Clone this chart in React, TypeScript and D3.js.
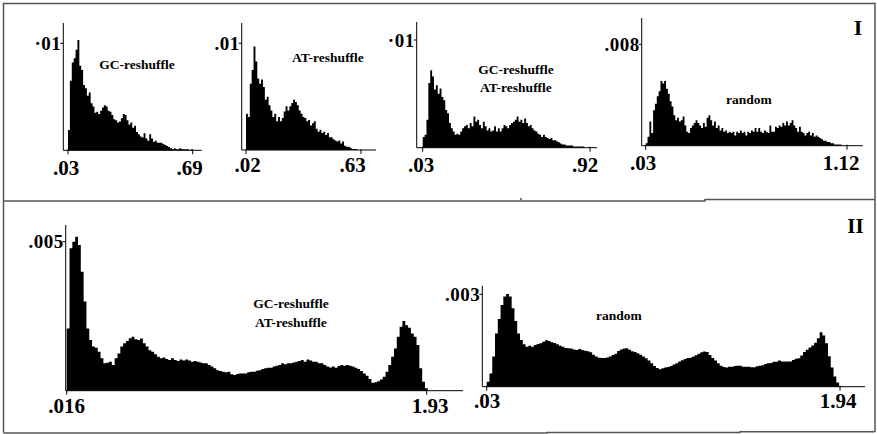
import React from "react";
import * as d3 from "d3";

// histogram heights, in units of 1e-4 (100 = .01)
const gcReshuffle = [
  19, 65, 82, 86, 94, 103, 79, 75, 61, 58, 51, 54, 44, 41, 35, 36, 34, 37, 40, 42,
  41, 37, 36, 33, 29, 28, 26, 27, 30, 34, 33, 28, 24, 26, 21, 23, 17, 15, 13, 12,
  16, 11, 9, 15, 11, 8, 9, 7, 7, 7, 6, 5, 4, 3, 2, 1, 2, 1, 1, 2, 1, 1, 1, 1, 0, 1,
];
const atReshuffle = [
  34, 31, 62, 75, 97, 83, 67, 62, 66, 59, 47, 50, 42, 37, 31, 34, 27, 31, 27, 30,
  36, 41, 37, 41, 44, 47, 45, 42, 37, 34, 31, 30, 27, 28, 23, 25, 27, 20, 17, 19,
  16, 17, 14, 16, 12, 12, 10, 9, 8, 9, 6, 8, 4, 3, 3, 2, 1, 1, 1, 0, 0,
];
const gcAtReshuffle = [
  10, 12, 26, 60, 72, 66, 54, 58, 50, 55, 47, 44, 35, 32, 23, 18, 15, 12, 13, 12,
  15, 18, 20, 21, 18, 23, 20, 29, 24, 26, 21, 18, 24, 20, 16, 18, 15, 16, 20, 15,
  18, 15, 18, 21, 20, 18, 21, 23, 24, 26, 29, 24, 26, 23, 27, 23, 20, 21, 18, 16,
  15, 13, 12, 10, 12, 10, 9, 8, 9, 7, 7, 6, 5, 4, 3, 3, 2, 2, 2, 2,
  1, 1, 1, 1, 1, 1, 0, 0, 0,
];
const randomI = [
  2, 7, 19, 10, 28, 33, 39, 43, 51, 49, 51, 45, 41, 35, 31, 24, 20, 22, 19, 20,
  23, 16, 11, 10, 14, 16, 18, 20, 18, 16, 14, 18, 15, 22, 24, 20, 16, 19, 14, 16,
  12, 14, 11, 12, 10, 11, 10, 11, 8, 11, 10, 12, 10, 11, 8, 11, 10, 12, 11, 14,
  11, 14, 11, 10, 12, 11, 10, 16, 11, 11, 15, 14, 16, 15, 18, 16, 19, 16, 18, 20,
  16, 14, 11, 15, 11, 10, 8, 10, 11, 8, 10, 7, 8, 7, 6, 5, 4, 4, 3, 3,
  2, 2, 1, 1, 1, 1, 0, 0, 0,
];
const gcAtReshuffleII = [
  20.9, 47.8, 50.0, 51.7, 48.9, 39.9, 29.9, 20.9, 17.0, 14.8, 14.4, 13.1, 10.9, 9.2, 9.4, 9.7,
  8.6, 10.9, 12.5, 14.8, 15.9, 16.7, 17.6, 18.1, 17.3, 17.0, 17.5, 15.9, 14.8, 13.6, 13.1, 12.2,
  11.4, 10.9, 11.1, 10.6, 10.3, 10.9, 10.3, 10.0, 10.5, 10.1, 10.5, 10.1, 9.7, 10.0, 9.7, 9.5,
  9.2, 9.2, 8.6, 8.1, 7.5, 6.9, 6.6, 6.4, 6.2, 6.4, 5.5, 5.3, 5.6, 5.8, 5.8, 5.8,
  6.2, 6.4, 6.4, 6.7, 6.9, 7.3, 7.5, 7.7, 7.7, 8.1, 8.4, 8.6, 9.2, 8.9, 9.2, 9.2,
  9.5, 9.7, 10.0, 10.3, 9.7, 10.5, 10.1, 9.7, 9.7, 9.2, 9.2, 8.6, 8.1, 7.8, 8.1, 7.7,
  8.3, 8.6, 8.4, 8.6, 8.4, 8.1, 7.7, 7.3, 6.6, 5.8, 5.0, 3.9, 2.7, 2.8, 3.2, 3.8,
  4.7, 6.4, 8.6, 11.4, 14.2, 18.1, 21.5, 23.4, 22.0, 21.1, 19.2, 18.1, 15.3, 7.5, 3.0, 0.8,
];
const randomII = [
  1.6, 4.3, 9.8, 17.3, 22.0, 26.5, 29.3, 30.1, 29.3, 25.5, 21.3, 17.3, 15.2, 13.8, 13.0, 13.3,
  13.0, 13.5, 13.9, 14.1, 14.6, 15.1, 14.8, 14.4, 14.2, 13.8, 13.3, 13.0, 12.6, 12.5, 12.4, 12.1,
  11.9, 12.2, 11.9, 11.7, 11.5, 11.2, 10.4, 9.8, 9.4, 9.3, 9.3, 9.5, 9.8, 10.3, 10.7, 11.6,
  12.1, 12.4, 12.5, 12.0, 11.5, 11.3, 10.9, 10.4, 9.8, 9.2, 8.5, 7.6, 6.7, 6.1, 5.7, 6.0,
  6.2, 6.4, 6.7, 7.2, 7.6, 8.2, 8.6, 9.0, 9.3, 9.4, 9.8, 10.2, 10.7, 11.2, 11.4, 11.3,
  10.3, 9.3, 8.5, 7.6, 6.8, 6.4, 6.2, 6.5, 6.5, 6.7, 6.8, 6.8, 6.5, 6.5, 6.5, 6.3,
  6.3, 6.6, 6.8, 7.0, 7.4, 7.6, 7.7, 8.1, 8.1, 8.5, 8.2, 8.2, 8.2, 8.2, 8.7, 9.1,
  9.2, 10.1, 11.3, 12.0, 12.7, 13.4, 14.3, 15.7, 17.7, 16.6, 14.1, 9.9, 6.2, 3.3, 1.4, 0.2,
];

const seriesList = [gcReshuffle, atReshuffle, gcAtReshuffle, randomI, gcAtReshuffleII, randomII];
const binStarts = [0.03, 0.02, 0.03, 0.03, 0.016, 0.03];
const binWidths = [0.01, 0.01, 0.01, 0.01, 0.015, 0.015];
const xTickValues = [[0.03, 0.69], [0.02, 0.63], [0.03, 0.92], [0.03, 1.12], [0.016, 1.93], [0.03, 1.94]];
const xTickLabels = [[".03", ".69"], [".02", ".63"], [".03", ".92"], [".03", "1.12"], [".016", "1.93"], [".03", "1.94"]];
const yTickValues = [100, 100, 100, 80, 50, 30];
const yTickLabels = ["·01", ".01", "·01", ".008", ".005", ".003"];
const captions = [
  ["GC-reshuffle"],
  ["AT-reshuffle"],
  ["GC-reshuffle", "AT-reshuffle"],
  ["random"],
  ["GC-reshuffle", "AT-reshuffle"],
  ["random"],
];

// pixel layout of each small chart
const layout = [
  { ax: 63.3, top: 23, base: 150.3, right: 201.7, tx: [68, 192.7], ty: 43.3, lx: [66, 189.5], lb: 175, cx: 137, cy: 69 },
  { ax: 241.7, top: 23, base: 150, right: 376, tx: [246, 361], ty: 43.3, lx: [247.5, 352.5], lb: 171.7, cx: 328, cy: 62 },
  { ax: 416.7, top: 22, base: 147.7, right: 597, tx: [422.7, 590], ty: 40, lx: [421, 585], lb: 171.7, cx: 516, cy: 74 },
  { ax: 641.7, top: 18, base: 145.7, right: 862.7, tx: [645.7, 847], ty: 44.3, lx: [643, 841], lb: 170, cx: 749, cy: 104 },
  { ax: 65.7, top: 225, base: 390.7, right: 463, tx: [66.7, 426.7], ty: 241.7, lx: [66.5, 430], lb: 413.3, cx: 291, cy: 308.3 },
  { ax: 482.3, top: 285.7, base: 386.7, right: 865, tx: [486.7, 840], ty: 294.3, lx: [487, 838], lb: 408.3, cx: 619, cy: 320 },
];

const FONT = "'Liberation Serif', 'Times New Roman', Times, serif";

function Hist({ i }: { i: number }) {
  const L = layout[i];
  const values = seriesList[i];
  const x = d3.scaleLinear().domain(xTickValues[i]).range(L.tx);
  const y = d3.scaleLinear().domain([0, yTickValues[i]]).range([L.base, L.ty]);
  const w = binWidths[i];
  const s = binStarts[i];

  // step outline: one point per bin edge, last value repeated for the closing edge
  const pts = values.map((v, j) => [s + j * w, v] as [number, number]);
  pts.push([s + values.length * w, values[values.length - 1]]);
  const area = d3
    .area<[number, number]>()
    .x((d) => x(d[0]))
    .y0(L.base)
    .y1((d) => y(d[1]))
    .curve(d3.curveStepAfter);

  return (
    <g>
      <path d={area(pts) || ""} fill="#000" />
      <line x1={L.ax} x2={L.ax} y1={L.top} y2={L.base} stroke="#000" strokeWidth={1} />
      <line x1={L.ax} x2={L.right} y1={L.base} y2={L.base} stroke="#000" strokeWidth={1} />
      <line x1={L.ax - 3} x2={L.ax} y1={y(yTickValues[i])} y2={y(yTickValues[i])} stroke="#000" />
      <text
        x={L.ax - 2}
        y={y(yTickValues[i]) + 6.5}
        textAnchor="end"
        fontFamily={FONT}
        fontWeight="bold"
        fontSize={19}
        letterSpacing={0.5}
      >
        {yTickLabels[i]}
      </text>
      {xTickValues[i].map((t, k) => (
        <g key={k}>
          <line x1={x(t)} x2={x(t)} y1={L.base - 1} y2={L.base + 4} stroke="#000" />
          <text
            x={L.lx[k]}
            y={L.lb}
            textAnchor="middle"
            fontFamily={FONT}
            fontWeight="bold"
            fontSize={21}
          >
            {xTickLabels[i][k]}
          </text>
        </g>
      ))}
      {captions[i].map((c, k) => (
        <text
          key={c}
          x={L.cx}
          y={L.cy + k * 18.4}
          textAnchor="middle"
          fontFamily={FONT}
          fontWeight="bold"
          fontSize={13.5}
        >
          {c}
        </text>
      ))}
    </g>
  );
}

export default function App() {
  return (
    <svg
      width={877}
      height={434}
      style={{ position: "absolute", left: 0, top: 0, background: "#fff" }}
    >
      <rect x={0} y={0} width={877} height={434} fill="#fff" />
      <g fill="none" stroke="#555" strokeWidth={1.5}>
        <path d="M3.5,432.8 V3.5 H875 V432" />
        <path d="M3.5,201 H705 V199.6 H875" />
        <path d="M3.5,433 H547 V432.5 H740 V431.8 H875" />
        <path d="M521,198 V200" />
      </g>
      {layout.map((_, i) => (
        <Hist key={i} i={i} />
      ))}
      <text x={858} y={35} textAnchor="middle" fontFamily={FONT} fontWeight="bold" fontSize={22}>
        I
      </text>
      <text x={855.5} y={233} textAnchor="middle" fontFamily={FONT} fontWeight="bold" fontSize={21}>
        II
      </text>
    </svg>
  );
}
